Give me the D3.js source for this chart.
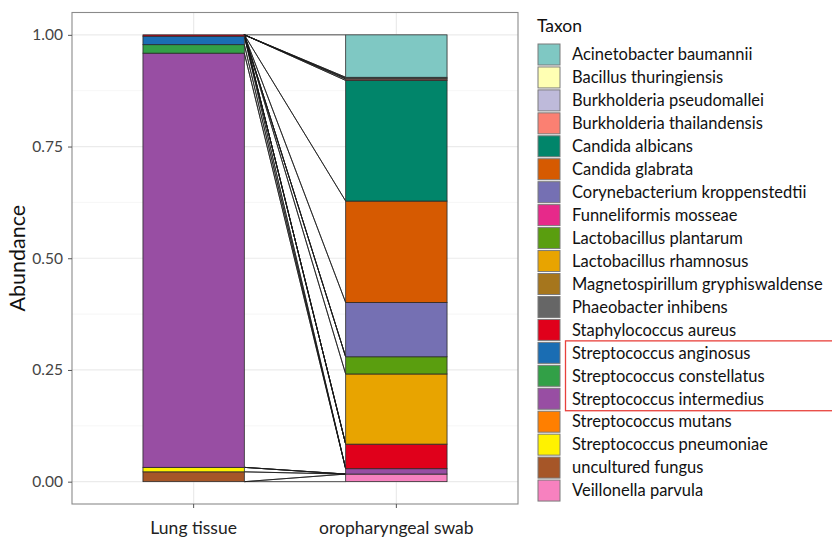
<!DOCTYPE html>
<html>
<head>
<meta charset="utf-8">
<script src="https://cdn.jsdelivr.net/npm/d3@7"></script>
<style>
  html, body { margin: 0; padding: 0; background: #fff; }
  svg { display: block; font-family: Lato, "Open Sans", sans-serif; }
</style>
</head>
<body>
<div id="chart"></div>
<script>
/* stacked abundance bars with flow lines between samples */

const SAMPLES = ["Lung tissue", "oropharyngeal swab"];
const TAXA = [
  "Acinetobacter baumannii", "Bacillus thuringiensis", "Burkholderia pseudomallei",
  "Burkholderia thailandensis", "Candida albicans", "Candida glabrata",
  "Corynebacterium kroppenstedtii", "Funneliformis mosseae", "Lactobacillus plantarum",
  "Lactobacillus rhamnosus", "Magnetospirillum gryphiswaldense", "Phaeobacter inhibens",
  "Staphylococcus aureus", "Streptococcus anginosus", "Streptococcus constellatus",
  "Streptococcus intermedius", "Streptococcus mutans", "Streptococcus pneumoniae",
  "uncultured fungus", "Veillonella parvula"
];
const COLORS = [
  "#7fc8c3", "#ffffb3", "#bebada", "#fb8072", "#01856a", "#d65a01",
  "#7570b3", "#e7298a", "#5a9e0f", "#e8a400", "#a6761d", "#666666",
  "#e0001b", "#1a6db3", "#32a047", "#984ea3", "#ff7f00", "#fff200",
  "#a65628", "#f781bf"
];
const LUNG = [0, 0, 0, 0, 0, 0, 0, 0, 0, 0, 0, 0,
              0.003, 0.019, 0.019, 0.927, 0, 0.010, 0.022, 0];
const SWAB = [0.095, 0.002, 0.002, 0.003, 0.270, 0.227, 0.1215, 0, 0.0385, 0.157, 0, 0,
              0.055, 0, 0, 0.012, 0, 0, 0, 0.017];
const Y_TICKS = [0, 0.25, 0.5, 0.75, 1];
const Y_MINOR = [0.125, 0.375, 0.625, 0.875];
const HIGHLIGHT = ["Streptococcus anginosus", "Streptococcus intermedius"];

const W = 832, H = 539;
const P = {left: 72, right: 518, top: 12.5, bottom: 504};

const svg = d3.select("#chart").append("svg").attr("width", W).attr("height", H);

const x = d3.scaleBand().domain(SAMPLES).range([P.left, P.right])
  .paddingInner(0.5).paddingOuter(0.35);
const y = d3.scaleLinear().domain([-0.05, 1.05]).range([P.bottom, P.top]);
const color = d3.scaleOrdinal(TAXA, COLORS);

/* ---------- grid ---------- */
const grid = svg.append("g");
grid.selectAll("line.minor").data(Y_MINOR).join("line")
  .attr("x1", P.left).attr("x2", P.right)
  .attr("y1", d => y(d)).attr("y2", d => y(d))
  .attr("stroke", "#f4f4f4").attr("stroke-width", 0.8);
grid.selectAll("line.major").data(Y_TICKS).join("line")
  .attr("x1", P.left).attr("x2", P.right)
  .attr("y1", d => y(d)).attr("y2", d => y(d))
  .attr("stroke", "#ebebeb").attr("stroke-width", 1.2);
grid.selectAll("line.vx").data(SAMPLES).join("line")
  .attr("x1", d => x(d) + x.bandwidth() / 2).attr("x2", d => x(d) + x.bandwidth() / 2)
  .attr("y1", P.top).attr("y2", P.bottom)
  .attr("stroke", "#ebebeb").attr("stroke-width", 1.2);

/* ---------- stack ---------- */
const rows = SAMPLES.map((s, i) => {
  const r = {sample: s};
  TAXA.forEach((t, j) => r[t] = (i === 0 ? LUNG : SWAB)[j]);
  return r;
});
const series = d3.stack().keys(TAXA.slice().reverse())(rows);

/* ---------- flow lines ---------- */
const [s0, s1] = SAMPLES;
const xa = x(s0) + x.bandwidth(), xb = x(s1);
const bounds = [];
series.forEach(sr => {
  bounds.push([sr[0][0], sr[1][0]]);
  bounds.push([sr[0][1], sr[1][1]]);
});
svg.append("g").selectAll("line").data(bounds).join("line")
  .attr("x1", xa).attr("x2", xb)
  .attr("y1", d => y(d[0])).attr("y2", d => y(d[1]))
  .attr("stroke", "#1a1a1a").attr("stroke-width", 0.75);

/* ---------- bars ---------- */
svg.append("g").selectAll("g").data(series).join("g")
  .attr("fill", d => color(d.key))
  .selectAll("rect").data(d => d.filter(p => p[1] - p[0] > 0)).join("rect")
    .attr("x", d => x(d.data.sample)).attr("width", x.bandwidth())
    .attr("y", d => y(d[1])).attr("height", d => y(d[0]) - y(d[1]))
    .attr("stroke", "#2a2a2a").attr("stroke-width", 0.8);

/* ---------- panel border + axes ---------- */
svg.append("rect")
  .attr("x", P.left).attr("y", P.top)
  .attr("width", P.right - P.left).attr("height", P.bottom - P.top)
  .attr("fill", "none").attr("stroke", "#8a8a8a").attr("stroke-width", 1.1);

const yAxis = svg.append("g").attr("transform", `translate(${P.left},0)`)
  .call(d3.axisLeft(y).tickValues(Y_TICKS).tickFormat(d3.format(".2f")).tickSize(4).tickPadding(5));
yAxis.select(".domain").remove();
yAxis.selectAll("line").attr("stroke", "#555");
yAxis.selectAll("text").attr("fill", "#444").style("font-size", "15.5px")
  .style("font-family", "Lato, sans-serif");

const xAxis = svg.append("g").attr("transform", `translate(0,${P.bottom})`)
  .call(d3.axisBottom(x).tickSize(4).tickPadding(14));
xAxis.select(".domain").remove();
xAxis.selectAll("line").attr("stroke", "#555");
xAxis.selectAll("text").attr("fill", "#222").style("font-size", "17.5px")
  .style("font-family", "Lato, sans-serif");

svg.append("text")
  .attr("transform", `translate(25,${(y(0) + y(1)) / 2}) rotate(-90)`)
  .attr("text-anchor", "middle").attr("fill", "#111")
  .style("font-size", "21.5px").text("Abundance");

/* ---------- legend ---------- */
const L = {x: 538, y0: 54.5, step: 22.95, key: 21};
const legend = svg.append("g");
legend.append("text").attr("x", L.x - 1).attr("y", 32)
  .attr("fill", "#111").style("font-size", "17.5px").text("Taxon");
const item = legend.selectAll("g.item").data(TAXA).join("g")
  .attr("transform", (d, i) => `translate(${L.x},${L.y0 + i * L.step})`);
item.append("rect")
  .attr("x", 0).attr("y", -L.key / 2).attr("width", 22).attr("height", L.key)
  .attr("fill", d => color(d)).attr("stroke", "#7a7a7a").attr("stroke-width", 1);
item.append("text").attr("x", 34).attr("dy", "0.35em")
  .attr("fill", "#111").style("font-size", "16.5px").text(d => d);

/* red box around the three streptococci */
const hi = HIGHLIGHT.map(t => TAXA.indexOf(t));
legend.append("rect")
  .attr("x", 565.5).attr("y", L.y0 + hi[0] * L.step - L.step / 2 - 0.5)
  .attr("width", 280).attr("height", (hi[1] - hi[0] + 1) * L.step + 1)
  .attr("fill", "none").attr("stroke", "#e8413c").attr("stroke-width", 1.3);
</script>
</body>
</html>
